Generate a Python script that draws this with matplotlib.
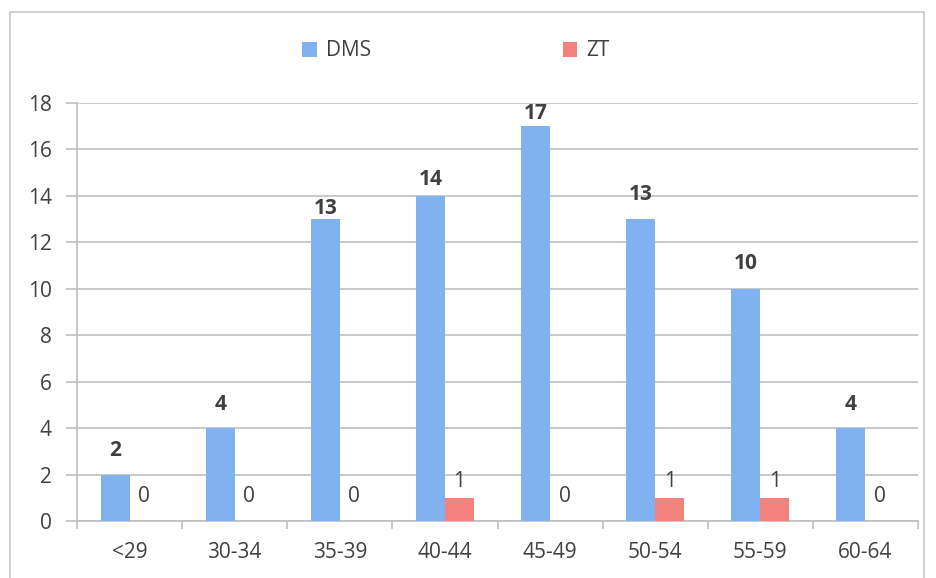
import numpy as np
import matplotlib.pyplot as plt
from matplotlib.patches import Rectangle

# dane
kategorie = ['<29', '30-34', '35-39', '40-44', '45-49', '50-54', '55-59', '60-64']
dms = [2, 4, 13, 14, 17, 13, 10, 4]
zt = [0, 0, 0, 1, 0, 1, 1, 0]

# przesunięcia etykiet nad słupkami (piksele), tak jak w oryginale
odst_dms = [24, 24, 11, 16.5, 13, 25, 25.5, 24]
odst_zt = [24.5, 24.5, 24.5, 16.5, 24.5, 16.5, 16.5, 24.5]

kolor_dms = '#7FB2EE'
kolor_zt = '#F3827F'
szary = '#BFBFBF'
tekst = '#404040'

plt.rcParams['font.family'] = ['Open Sans', 'DejaVu Sans']

fig = plt.figure(figsize=(9.36, 5.78), dpi=100)
fig.patches.append(Rectangle((10 / 936, -0.1), 914 / 936, 1 - 12 / 578 + 0.1,
                             transform=fig.transFigure, fill=False,
                             edgecolor='#C8C8C8', linewidth=1.2))

ax = fig.add_axes([77 / 936, 1 - 521 / 578, 841 / 936, 418 / 578])

x = np.arange(len(kategorie))
w = 0.276
b1 = ax.bar(x - w / 2, dms, w, color=kolor_dms, label='DMS', zorder=3)
b2 = ax.bar(x + w / 2, zt, w, color=kolor_zt, label='ZT', zorder=3)

for r, v, d in zip(b1, dms, odst_dms):
    ax.annotate(str(v), (r.get_x() + r.get_width() / 2, v), xytext=(0, d),
                textcoords='offset pixels', ha='center', va='center',
                fontsize=15, fontweight='bold', color=tekst)
for r, v, d in zip(b2, zt, odst_zt):
    ax.annotate(str(v), (r.get_x() + r.get_width() / 2, v), xytext=(0, d),
                textcoords='offset pixels', ha='center', va='center',
                fontsize=15, color=tekst)

ax.set_xlim(-0.5, len(kategorie) - 0.5)
ax.set_ylim(0, 18)
ax.set_yticks(range(0, 19, 2))
ax.yaxis.grid(True, color=szary, linewidth=1.2, zorder=0)
ax.set_axisbelow(True)

ax.set_xticks(np.arange(-0.5, len(kategorie), 1))
ax.set_xticklabels([])
ax.set_xticks(x, minor=True)
ax.set_xticklabels(kategorie, minor=True)
ax.tick_params(axis='x', which='major', length=6, color=szary, width=1.2)
ax.tick_params(axis='x', which='minor', length=0, pad=15, labelsize=15, labelcolor=tekst)
ax.tick_params(axis='y', length=8, color=szary, width=1.2, labelsize=15,
               labelcolor=tekst, pad=10)

for s in ['top', 'right']:
    ax.spines[s].set_visible(False)
ax.spines['left'].set_color(szary)
ax.spines['bottom'].set_color(szary)
ax.spines['left'].set_linewidth(1.2)
ax.spines['bottom'].set_linewidth(1.2)

fig.legend(loc='center', bbox_to_anchor=(456 / 936, 1 - 51 / 578), ncol=2,
           frameon=False, fontsize=15, handlelength=0.7, handleheight=0.7,
           columnspacing=9.2, handletextpad=0.45, labelcolor=tekst)

plt.savefig('out.png', dpi=100)
